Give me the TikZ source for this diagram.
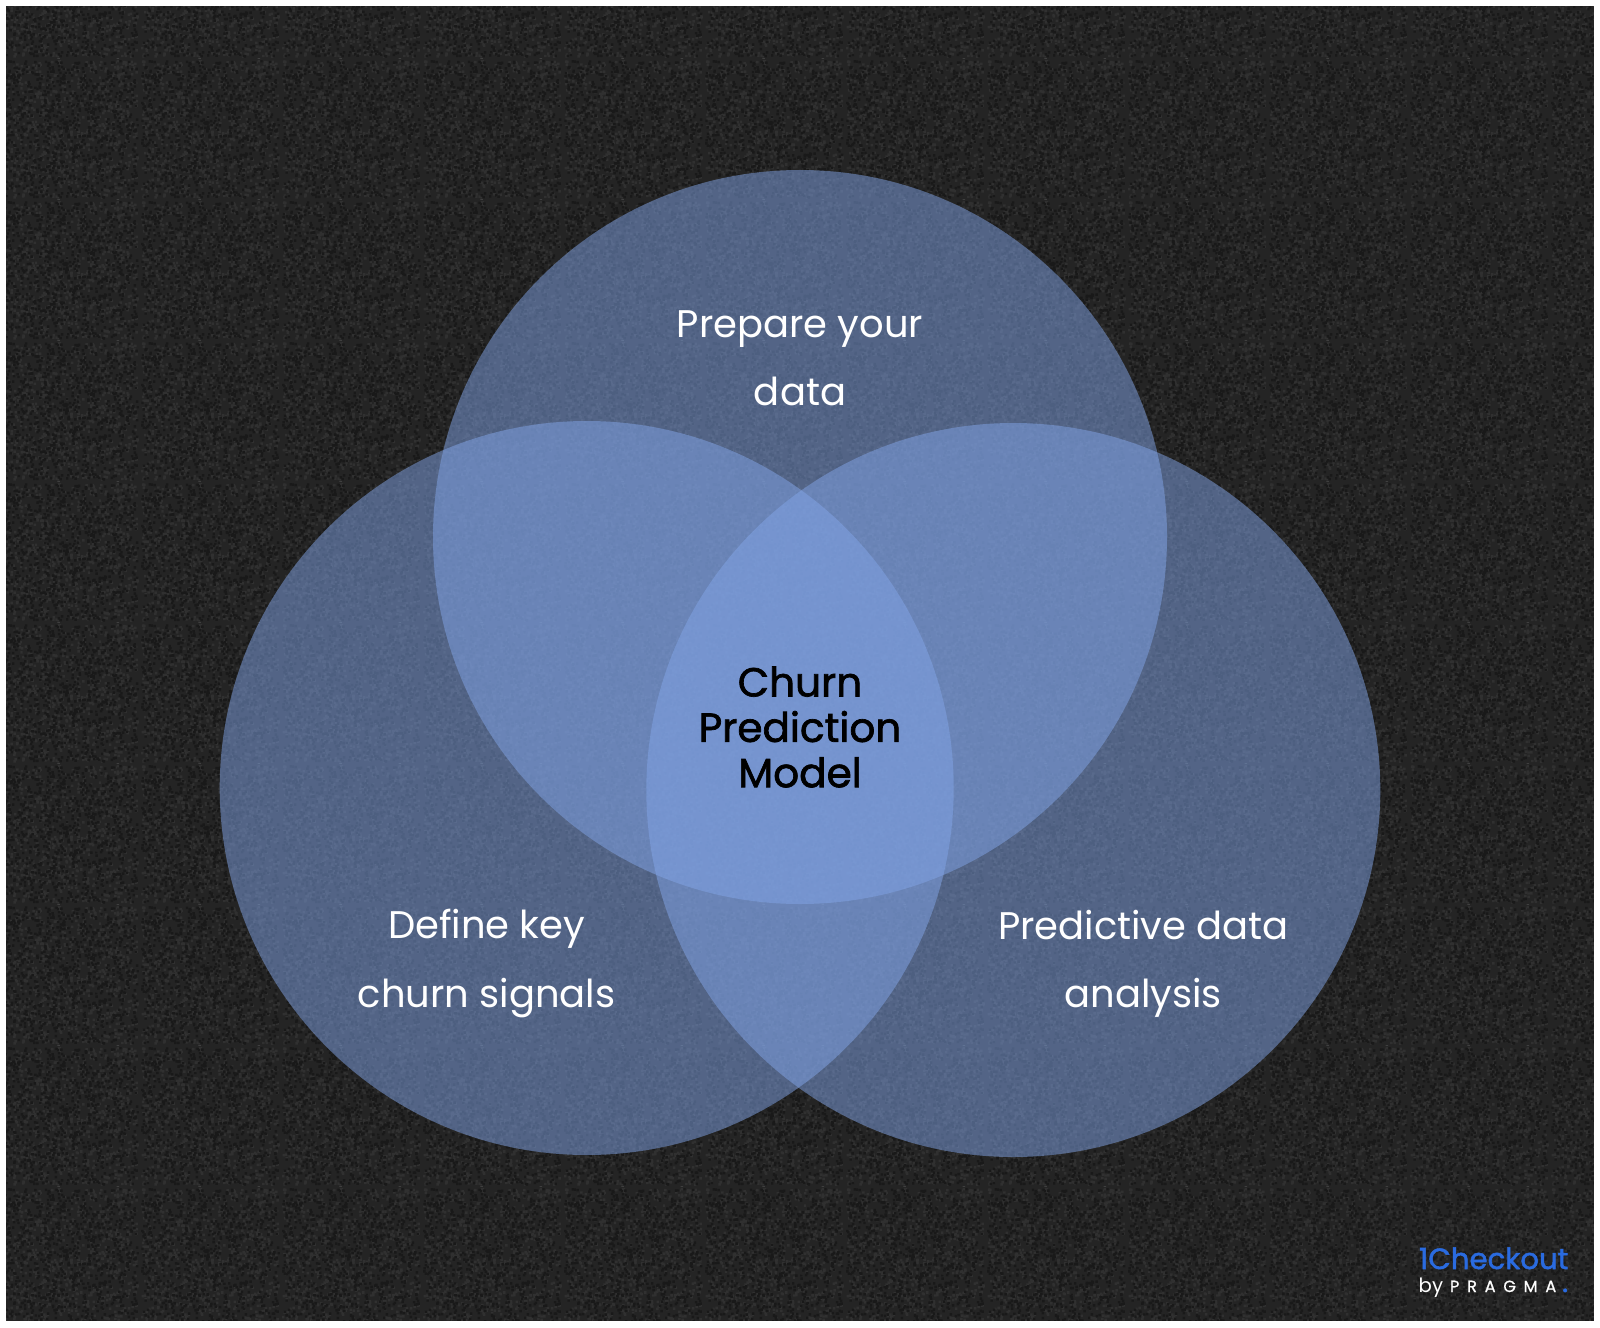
\documentclass[tikz,border=0pt]{standalone}
\usepackage{fontspec}
\usepackage{xcolor}
\usepackage{tikz}
\usetikzlibrary{patterns}
\usetikzlibrary{positioning}
\setmainfont{Poppins}
\newfontfamily\spaced[LetterSpace=48,FakeBold=0.8]{Poppins}
\newfontfamily\heavy[FakeBold=1.7]{Poppins}

\definecolor{ground}{HTML}{242424}
\definecolor{speckle}{HTML}{303030}
\definecolor{shade}{HTML}{191919}
\definecolor{lobe}{HTML}{82A5E8}
\definecolor{brand}{HTML}{2A6BE0}

\pgfdeclarepatternformonly{grainlight}{\pgfqpoint{0pt}{0pt}}{\pgfqpoint{40pt}{40pt}}{\pgfqpoint{40pt}{40pt}}{%
	\pgfmathsetseed{11}%
	\foreach \i in {1,...,900} {%
		\pgfmathsetmacro\gx{rnd*39}\pgfmathsetmacro\gy{rnd*39}%
		\pgfpathrectangle{\pgfqpoint{\gx pt}{\gy pt}}{\pgfqpoint{.7pt}{.7pt}}%
		\pgfusepath{fill}%
	}%
}
\pgfdeclarepatternformonly{graindark}{\pgfqpoint{0pt}{0pt}}{\pgfqpoint{40pt}{40pt}}{\pgfqpoint{40pt}{40pt}}{%
	\pgfmathsetseed{23}%
	\foreach \i in {1,...,900} {%
		\pgfmathsetmacro\gx{rnd*39}\pgfmathsetmacro\gy{rnd*39}%
		\pgfpathrectangle{\pgfqpoint{\gx pt}{\gy pt}}{\pgfqpoint{.7pt}{.7pt}}%
		\pgfusepath{fill}%
	}%
}

\begin{document}
\begin{tikzpicture}[
	lobenode/.style={circle, fill=lobe, fill opacity=0.5, inner sep=0pt, minimum size=7.34cm},
	topic/.style={align=center, text=white, font=\fontsize{10.95}{19.4}\selectfont},
	core/.style={align=center, text=black, font=\fontsize{11.55}{12.9}\selectfont\heavy},
]
\useasboundingbox (0,0) rectangle (16,13.27);
\fill [ground] (0,0) rectangle (16,13.27);
\fill [pattern=grainlight, pattern color=speckle] (0,0) rectangle (16,13.27);
\fill [pattern=graindark, pattern color=shade] (0,0) rectangle (16,13.27);
\fill [white, even odd rule] (0,0) rectangle (16,13.27) (0.06,0.06) rectangle (15.94,13.21);
%
\node [lobenode] (T) at (8,7.90) {};
\node [lobenode] (L) at (5.867,5.39) {};
\node [lobenode] (R) at (10.133,5.37) {};
%
\node [topic] (Ttext) [above of=T, node distance=1.79cm] {Prepare your\\data};
\node [topic] (Ltext) [below of=L, node distance=1.755cm, xshift=-1cm] {Define key\\churn signals};
\node [topic] (Rtext) [below of=R, node distance=1.735cm, xshift=1.3cm] {Predictive data\\analysis};
\node [core] (C) [below of=T, node distance=1.90cm] {Churn\\Prediction\\Model};
%
\node [text=brand, anchor=base east, inner sep=0pt, font=\fontsize{8.3}{10}\selectfont\heavy] (logo) at (15.69,0.58) {1Checkout};
\node [text=white, anchor=base west, inner sep=0pt, font=\fontsize{5.6}{7}\selectfont] (by) at (14.18,0.35) {by\hspace{0.35em}{\fontsize{4.6}{7}\selectfont\spaced PRAGMA}\hspace{0.3em}\textcolor{brand}{\fontsize{8}{8}\selectfont\heavy.}};
\end{tikzpicture}
\end{document}
